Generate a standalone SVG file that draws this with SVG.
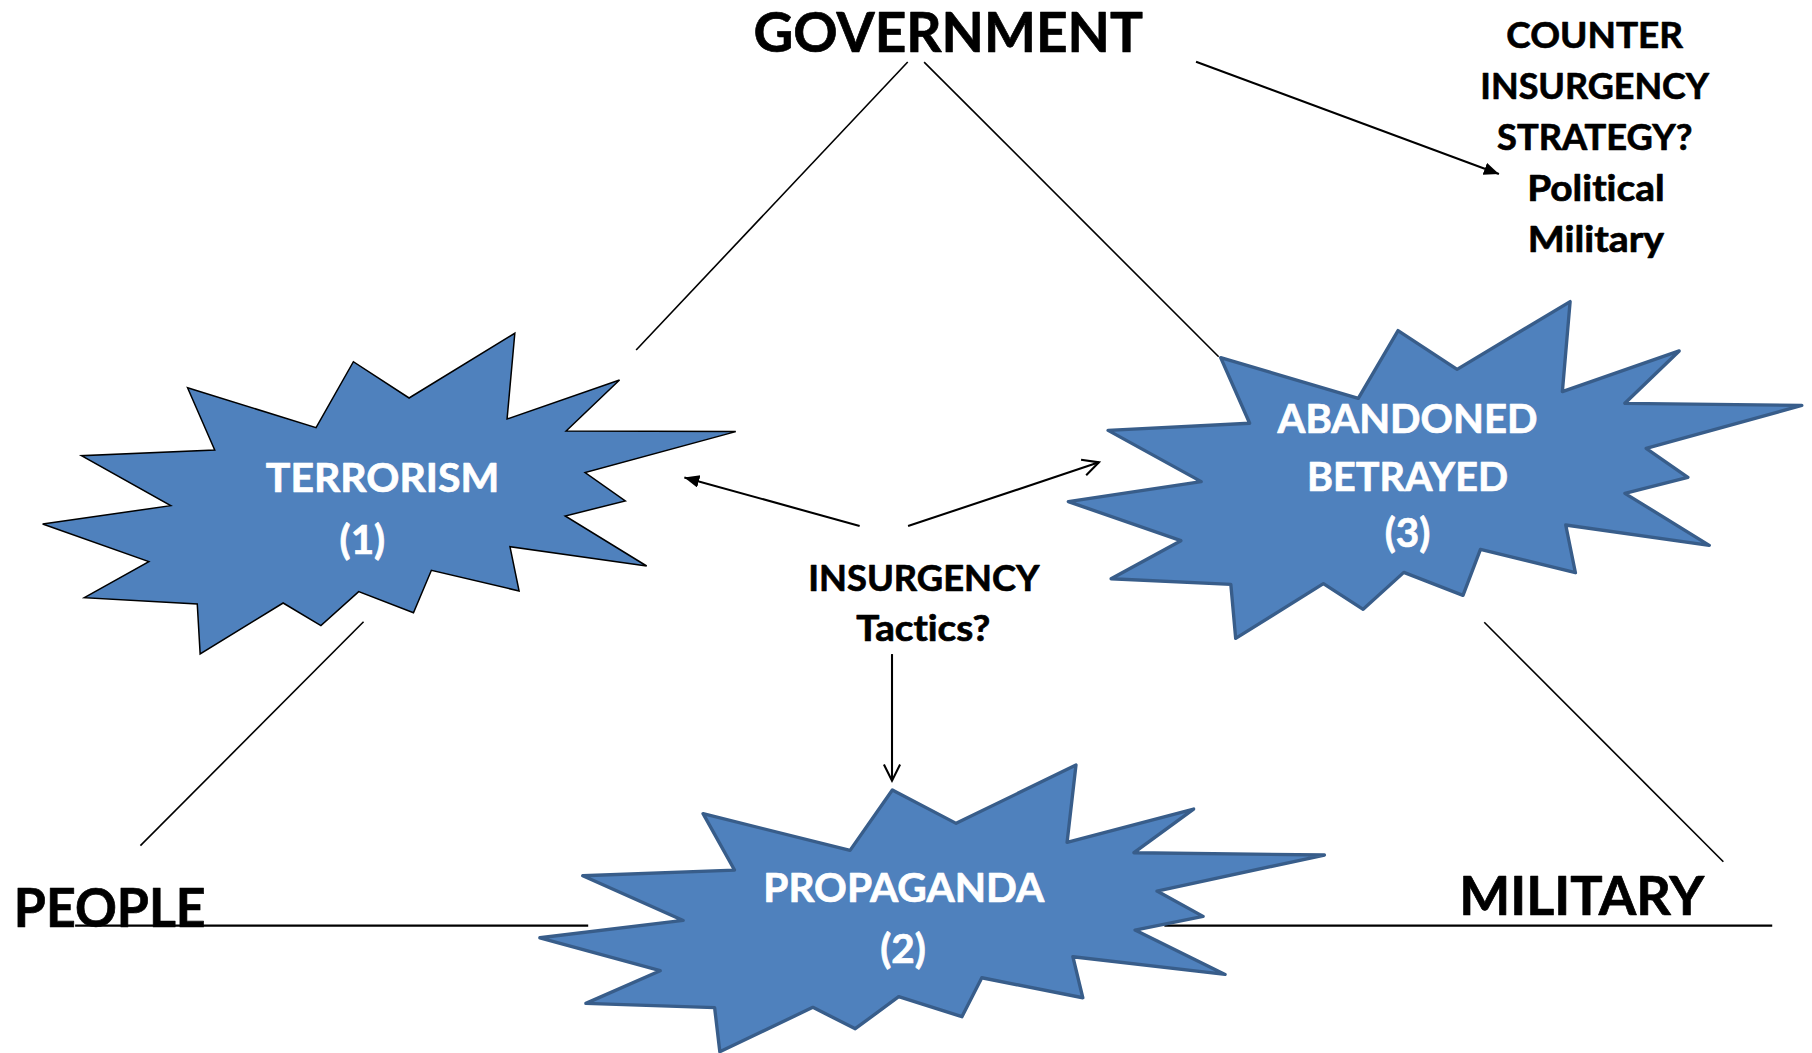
<svg xmlns="http://www.w3.org/2000/svg" width="1812" height="1053" viewBox="0 0 1812 1053">
<style>
  .bg { fill: #ffffff; }
  .star { fill: #4F81BD; stroke: #385D8A; stroke-width: 2.9; stroke-linejoin: round; }
  .star.thin { stroke: #000000; stroke-width: 1.3; stroke-linejoin: miter; }
  .ln { stroke: #000000; stroke-width: 1.4; fill: none; }
  .ar { stroke: #000000; stroke-width: 1.8; fill: none; }
  .hz { stroke: #000000; stroke-width: 1.9; fill: none; }
  text { font-family: Lato, "Open Sans", "DejaVu Sans", sans-serif; font-weight: bold; text-anchor: middle; font-variant-ligatures: none; stroke-width: 0.6; stroke-linejoin: round; }
  .blk { fill: #000000; stroke: #000000; }
  .wht { fill: #ffffff; stroke: #ffffff; }
</style>
<defs>
  <marker id="headFill" markerUnits="userSpaceOnUse" markerWidth="14" markerHeight="12" refX="13" refY="5.5" orient="auto">
    <path d="M0,0 L13,5.5 L0,11 z" fill="#000000"/>
  </marker>
  <marker id="headOpen" markerUnits="userSpaceOnUse" markerWidth="18" markerHeight="18" refX="15" refY="8" orient="auto">
    <path d="M1,1 L15,8 L1,15" fill="none" stroke="#000000" stroke-width="1.8"/>
  </marker>
</defs>
<rect class="bg" x="0" y="0" width="1812" height="1053"/>
<g transform="scale(1.1556)">
  <g id="connectors">
    <line class="ln" x1="785.5" y1="53.7" x2="550.5" y2="302.9"/>
    <line class="ln" x1="799.7" y1="53.7" x2="1054.6" y2="308.7"/>
    <line class="ln" x1="314.6" y1="538" x2="121.5" y2="731.8"/>
    <line class="ln" x1="1284.4" y1="538.5" x2="1491.3" y2="745.7"/>
    <line class="hz" x1="65" y1="801" x2="509" y2="801"/>
    <line class="hz" x1="1007.6" y1="801" x2="1533.6" y2="801"/>
    <line class="ar" x1="1035" y1="53.4" x2="1297.1" y2="150.6" marker-end="url(#headFill)"/>
    <line class="ar" x1="743.9" y1="455.2" x2="592.2" y2="413.1" marker-end="url(#headFill)"/>
    <line class="ar" x1="785.8" y1="455.2" x2="951" y2="400.1" marker-end="url(#headOpen)"/>
    <line class="ar" x1="771.9" y1="566" x2="771.9" y2="675.6" marker-end="url(#headOpen)"/>
  </g>
  <g id="government">
    <text class="blk" x="820.5" y="44.7" font-size="48" textLength="337" lengthAdjust="spacingAndGlyphs">GOVERNMENT</text>
  </g>
  <g id="counter-insurgency">
    <text class="blk" x="1380" y="41.8" font-size="32" textLength="153" lengthAdjust="spacingAndGlyphs">COUNTER</text>
    <text class="blk" x="1380" y="85.8" font-size="32" textLength="198" lengthAdjust="spacingAndGlyphs">INSURGENCY</text>
    <text class="blk" x="1380" y="129.8" font-size="32" textLength="169" lengthAdjust="spacingAndGlyphs">STRATEGY?</text>
    <text class="blk" x="1381" y="173.8" font-size="32" textLength="119" lengthAdjust="spacingAndGlyphs">Political</text>
    <text class="blk" x="1381" y="217.8" font-size="32" textLength="118" lengthAdjust="spacingAndGlyphs">Military</text>
  </g>
  <g id="terrorism">
    <polygon class="star thin" points="36.9,453.4 147.7,437.6 70.5,394.3 185.8,389.4 162.3,335.5 273.5,370.1 305.8,313.0 354.0,344.4 445.5,288.4 438.8,362.6 536.1,328.8 489.9,373.0 636.7,373.5 506.3,409.0 541.1,433.5 489.1,446.5 559.6,489.8 441.3,473.1 449.2,511.4 373.3,493.5 357.8,530.2 310.4,512.0 277.7,541.4 245.0,521.8 173.2,565.9 170.7,522.7 73.0,517.2 128.8,486.0"/>
    <text class="wht" x="331" y="425.5" font-size="35" textLength="202" lengthAdjust="spacingAndGlyphs">TERRORISM</text>
    <text class="wht" x="313.6" y="479.4" font-size="35">(1)</text>
  </g>
  <g id="abandoned-betrayed">
    <polygon class="star" points="924.5,434.1 1039.5,416.8 958.9,372.4 1081.4,366.3 1056.3,309.5 1175.4,344.7 1209.8,286.1 1260.9,319.6 1358.7,261.0 1352.0,338.9 1453.1,303.7 1406.1,349.0 1559.2,350.8 1424.5,388.0 1460.6,413.1 1406.1,426.9 1479.1,471.9 1354.9,454.3 1363.3,495.6 1281.1,475.4 1266.0,515.2 1214.8,495.3 1179.6,527.3 1145.2,505.1 1069.3,552.4 1065.1,505.7 961.5,500.8 1021.9,467.9"/>
    <text class="wht" x="1218" y="375" font-size="35" textLength="225" lengthAdjust="spacingAndGlyphs">ABANDONED</text>
    <text class="wht" x="1218" y="424.6" font-size="35" textLength="174" lengthAdjust="spacingAndGlyphs">BETRAYED</text>
    <text class="wht" x="1218" y="473.5" font-size="35">(3)</text>
  </g>
  <g id="propaganda">
    <polygon class="star" points="467.2,811.5 591.2,796.5 504.3,757.8 635.6,752.9 608.4,704.1 735.6,735.9 772.2,683.7 827.4,712.5 931.1,662.0 923.4,729.0 1032.9,700.1 981.3,737.9 1146.1,739.9 1001.2,771.1 1041.1,793.0 982.2,804.8 1060.1,843.2 928.4,827.9 937.0,863.4 849.6,846.1 832.4,879.8 777.7,862.5 740.1,890.2 703.4,871.7 622.9,910.1 618.4,872.0 507.0,868.3 571.3,840.0"/>
    <text class="wht" x="782" y="780.3" font-size="35" textLength="243" lengthAdjust="spacingAndGlyphs">PROPAGANDA</text>
    <text class="wht" x="781.5" y="833.5" font-size="35">(2)</text>
  </g>
  <g id="insurgency-tactics">
    <text class="blk" x="799.5" y="511.1" font-size="31" textLength="200" lengthAdjust="spacingAndGlyphs">INSURGENCY</text>
    <text class="blk" x="799" y="554.7" font-size="31" textLength="116" lengthAdjust="spacingAndGlyphs">Tactics?</text>
  </g>
  <g id="people">
    <text class="blk" x="95" y="802" font-size="47" textLength="166" lengthAdjust="spacingAndGlyphs">PEOPLE</text>
  </g>
  <g id="military">
    <text class="blk" x="1368.7" y="791.8" font-size="47" textLength="212" lengthAdjust="spacingAndGlyphs">MILITARY</text>
  </g>
</g>
</svg>
